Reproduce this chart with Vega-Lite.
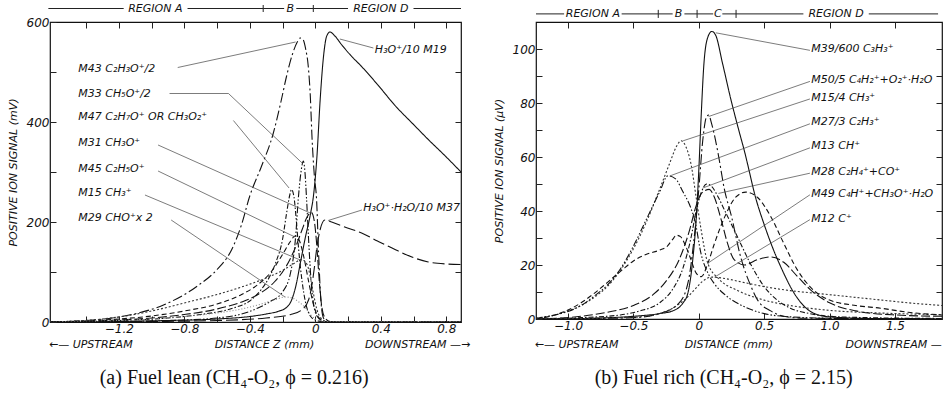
{
  "$schema": "https://vega.github.io/schema/vega-lite/v6.json",
  "background": "white",
  "padding": {"left": 6, "top": 1, "right": 0, "bottom": 0},
  "bounds": "flush",
  "spacing": 75,
  "config": {
    "view": {"stroke": "#111", "strokeWidth": 1.2},
    "axis": {"labelFont": "DejaVu Sans", "titleFont": "DejaVu Sans", "labelFontStyle": "italic", "titleFontStyle": "italic", "titleFontWeight": "normal", "labelColor": "#111", "titleColor": "#111", "tickColor": "#222", "grid": false, "domain": false, "labelOverlap": false, "labelFlush": false, "labelFontSize": 12, "titleFontSize": 11}
  },
  "datasets": {
    "left": [
      {"s":"M19","x":-1.62,"y":0},{"s":"M19","x":-1.2,"y":1},{"s":"M19","x":-0.9,"y":3},{"s":"M19","x":-0.6,"y":6},{"s":"M19","x":-0.4,"y":11},{"s":"M19","x":-0.3,"y":16},{"s":"M19","x":-0.22,"y":22},{"s":"M19","x":-0.18,"y":28},{"s":"M19","x":-0.15,"y":40},{"s":"M19","x":-0.12,"y":70},{"s":"M19","x":-0.09,"y":120},{"s":"M19","x":-0.06,"y":170},{"s":"M19","x":-0.03,"y":215},{"s":"M19","x":-0.01,"y":255},{"s":"M19","x":0.01,"y":330},{"s":"M19","x":0.03,"y":445},{"s":"M19","x":0.05,"y":530},{"s":"M19","x":0.07,"y":572},{"s":"M19","x":0.09,"y":580},{"s":"M19","x":0.12,"y":572},{"s":"M19","x":0.16,"y":555},{"s":"M19","x":0.22,"y":532},{"s":"M19","x":0.28,"y":512},{"s":"M19","x":0.38,"y":475},{"s":"M19","x":0.49,"y":432},{"s":"M19","x":0.6,"y":395},{"s":"M19","x":0.69,"y":365},{"s":"M19","x":0.8,"y":330},{"s":"M19","x":0.89,"y":300},
      {"s":"M43","x":-1.62,"y":0},{"s":"M43","x":-1.4,"y":3},{"s":"M43","x":-1.2,"y":10},{"s":"M43","x":-1.12,"y":15},{"s":"M43","x":-0.92,"y":35},{"s":"M43","x":-0.72,"y":72},{"s":"M43","x":-0.6,"y":105},{"s":"M43","x":-0.51,"y":145},{"s":"M43","x":-0.45,"y":195},{"s":"M43","x":-0.4,"y":252},{"s":"M43","x":-0.33,"y":310},{"s":"M43","x":-0.256,"y":378},{"s":"M43","x":-0.21,"y":440},{"s":"M43","x":-0.175,"y":492},{"s":"M43","x":-0.14,"y":535},{"s":"M43","x":-0.11,"y":560},{"s":"M43","x":-0.093,"y":568},{"s":"M43","x":-0.075,"y":565},{"s":"M43","x":-0.058,"y":545},{"s":"M43","x":-0.043,"y":512},{"s":"M43","x":-0.03,"y":450},{"s":"M43","x":-0.02,"y":370},{"s":"M43","x":-0.005,"y":290},{"s":"M43","x":0.008,"y":245},{"s":"M43","x":0.02,"y":140},{"s":"M43","x":0.035,"y":40},{"s":"M43","x":0.05,"y":8},{"s":"M43","x":0.07,"y":1},{"s":"M43","x":0.1,"y":0},{"s":"M43","x":0.89,"y":0},
      {"s":"M33","x":-1.62,"y":0},{"s":"M33","x":-1.2,"y":1},{"s":"M33","x":-0.8,"y":4},{"s":"M33","x":-0.6,"y":8},{"s":"M33","x":-0.45,"y":16},{"s":"M33","x":-0.35,"y":28},{"s":"M33","x":-0.28,"y":40},{"s":"M33","x":-0.2,"y":60},{"s":"M33","x":-0.15,"y":100},{"s":"M33","x":-0.12,"y":170},{"s":"M33","x":-0.104,"y":245},{"s":"M33","x":-0.085,"y":305},{"s":"M33","x":-0.073,"y":322},{"s":"M33","x":-0.063,"y":300},{"s":"M33","x":-0.053,"y":245},{"s":"M33","x":-0.04,"y":160},{"s":"M33","x":-0.025,"y":80},{"s":"M33","x":-0.01,"y":35},{"s":"M33","x":0.01,"y":12},{"s":"M33","x":0.04,"y":3},{"s":"M33","x":0.08,"y":0},{"s":"M33","x":0.89,"y":0},
      {"s":"M47","x":-1.62,"y":0},{"s":"M47","x":-1.2,"y":3},{"s":"M47","x":-0.9,"y":8},{"s":"M47","x":-0.7,"y":15},{"s":"M47","x":-0.5,"y":28},{"s":"M47","x":-0.4,"y":42},{"s":"M47","x":-0.33,"y":65},{"s":"M47","x":-0.28,"y":90},{"s":"M47","x":-0.24,"y":120},{"s":"M47","x":-0.2,"y":165},{"s":"M47","x":-0.175,"y":218},{"s":"M47","x":-0.155,"y":255},{"s":"M47","x":-0.145,"y":265},{"s":"M47","x":-0.13,"y":250},{"s":"M47","x":-0.115,"y":200},{"s":"M47","x":-0.1,"y":140},{"s":"M47","x":-0.08,"y":80},{"s":"M47","x":-0.06,"y":40},{"s":"M47","x":-0.03,"y":12},{"s":"M47","x":0,"y":4},{"s":"M47","x":0.04,"y":1},{"s":"M47","x":0.08,"y":0},{"s":"M47","x":0.89,"y":0},
      {"s":"M31","x":-1.62,"y":0},{"s":"M31","x":-1.2,"y":4},{"s":"M31","x":-1.0,"y":8},{"s":"M31","x":-0.8,"y":15},{"s":"M31","x":-0.6,"y":26},{"s":"M31","x":-0.45,"y":40},{"s":"M31","x":-0.35,"y":55},{"s":"M31","x":-0.25,"y":80},{"s":"M31","x":-0.18,"y":110},{"s":"M31","x":-0.12,"y":150},{"s":"M31","x":-0.08,"y":185},{"s":"M31","x":-0.05,"y":210},{"s":"M31","x":-0.024,"y":219},{"s":"M31","x":-0.005,"y":200},{"s":"M31","x":0.01,"y":150},{"s":"M31","x":0.025,"y":80},{"s":"M31","x":0.04,"y":30},{"s":"M31","x":0.06,"y":8},{"s":"M31","x":0.09,"y":1},{"s":"M31","x":0.12,"y":0},{"s":"M31","x":0.89,"y":0},
      {"s":"M45","x":-1.62,"y":0},{"s":"M45","x":-1.2,"y":6},{"s":"M45","x":-1.0,"y":12},{"s":"M45","x":-0.8,"y":22},{"s":"M45","x":-0.6,"y":36},{"s":"M45","x":-0.45,"y":55},{"s":"M45","x":-0.35,"y":75},{"s":"M45","x":-0.27,"y":100},{"s":"M45","x":-0.2,"y":135},{"s":"M45","x":-0.15,"y":162},{"s":"M45","x":-0.124,"y":172},{"s":"M45","x":-0.1,"y":165},{"s":"M45","x":-0.07,"y":130},{"s":"M45","x":-0.04,"y":80},{"s":"M45","x":-0.015,"y":40},{"s":"M45","x":0.01,"y":15},{"s":"M45","x":0.04,"y":4},{"s":"M45","x":0.08,"y":0},{"s":"M45","x":0.89,"y":0},
      {"s":"M15","x":-1.62,"y":0},{"s":"M15","x":-1.3,"y":6},{"s":"M15","x":-1.2,"y":10},{"s":"M15","x":-1.0,"y":22},{"s":"M15","x":-0.8,"y":38},{"s":"M15","x":-0.6,"y":55},{"s":"M15","x":-0.45,"y":70},{"s":"M15","x":-0.3,"y":88},{"s":"M15","x":-0.2,"y":103},{"s":"M15","x":-0.13,"y":117},{"s":"M15","x":-0.084,"y":125},{"s":"M15","x":-0.05,"y":115},{"s":"M15","x":-0.03,"y":90},{"s":"M15","x":-0.01,"y":55},{"s":"M15","x":0.01,"y":25},{"s":"M15","x":0.04,"y":6},{"s":"M15","x":0.08,"y":0},{"s":"M15","x":0.89,"y":0},
      {"s":"M29","x":-1.62,"y":0},{"s":"M29","x":-1.2,"y":3},{"s":"M29","x":-1.0,"y":6},{"s":"M29","x":-0.8,"y":11},{"s":"M29","x":-0.6,"y":18},{"s":"M29","x":-0.45,"y":26},{"s":"M29","x":-0.33,"y":36},{"s":"M29","x":-0.25,"y":44},{"s":"M29","x":-0.185,"y":50},{"s":"M29","x":-0.14,"y":48},{"s":"M29","x":-0.1,"y":40},{"s":"M29","x":-0.06,"y":28},{"s":"M29","x":-0.03,"y":15},{"s":"M29","x":0,"y":6},{"s":"M29","x":0.04,"y":2},{"s":"M29","x":0.1,"y":0.5},{"s":"M29","x":0.89,"y":0},
      {"s":"M37","x":-1.62,"y":0},{"s":"M37","x":-1.0,"y":1},{"s":"M37","x":-0.6,"y":3},{"s":"M37","x":-0.3,"y":8},{"s":"M37","x":-0.15,"y":15},{"s":"M37","x":-0.08,"y":25},{"s":"M37","x":-0.04,"y":45},{"s":"M37","x":-0.02,"y":75},{"s":"M37","x":-0.005,"y":110},{"s":"M37","x":0.01,"y":150},{"s":"M37","x":0.03,"y":185},{"s":"M37","x":0.059,"y":204},{"s":"M37","x":0.1,"y":200},{"s":"M37","x":0.18,"y":190},{"s":"M37","x":0.283,"y":178},{"s":"M37","x":0.38,"y":162},{"s":"M37","x":0.487,"y":145},{"s":"M37","x":0.59,"y":130},{"s":"M37","x":0.69,"y":120},{"s":"M37","x":0.8,"y":116},{"s":"M37","x":0.89,"y":115}
    ],
    "leftLabels": [
      {"x":-1.447,"y":507,"t":"M43  C₂H₃O⁺/2"},
      {"x":-1.447,"y":457,"t":"M33  CH₅O⁺/2"},
      {"x":-1.447,"y":411,"t":"M47  C₂H₇O⁺ OR CH₃O₂⁺"},
      {"x":-1.447,"y":359,"t":"M31  CH₃O⁺"},
      {"x":-1.447,"y":307,"t":"M45  C₂H₅O⁺"},
      {"x":-1.447,"y":259,"t":"M15  CH₃⁺"},
      {"x":-1.447,"y":209,"t":"M29  CHO⁺x 2"},
      {"x":0.364,"y":545,"t":"H₃O⁺/10  M19"},
      {"x":0.293,"y":229,"t":"H₃O⁺·H₂O/10  M37"}
    ],
    "leftLeaders": [
      {"x":-0.84,"y":509,"x2":-0.12,"y2":560},
      {"x":-0.89,"y":457,"x2":-0.53,"y2":457},
      {"x":-0.53,"y":457,"x2":-0.08,"y2":318},
      {"x":-0.5,"y":403,"x2":-0.16,"y2":268},
      {"x":-0.96,"y":354,"x2":-0.024,"y2":217},
      {"x":-0.96,"y":302,"x2":-0.124,"y2":170},
      {"x":-1.04,"y":254,"x2":-0.084,"y2":123},
      {"x":-0.88,"y":204,"x2":-0.185,"y2":50},
      {"x":0.355,"y":548,"x2":0.15,"y2":566},
      {"x":0.285,"y":224,"x2":0.079,"y2":203}
    ],
    "leftRegSeg": [
      {"x":-1.63,"x2":-1.17},{"x":-0.78,"x2":-0.318},{"x":-0.318,"x2":-0.19},{"x":-0.116,"x2":-0.012},{"x":-0.012,"x2":0.2},{"x":0.6,"x2":0.89}
    ],
    "leftRegTick": [{"x":-0.318},{"x":-0.012}],
    "leftRegText": [{"x":-0.977,"t":"REGION  A"},{"x":-0.153,"t":"B"},{"x":0.4,"t":"REGION  D"}],
    "leftBottom": [{"x":-1.371,"t":"←— UPSTREAM"},{"x":-0.31,"t":"DISTANCE  Z (mm)"},{"x":0.625,"t":"DOWNSTREAM —→"}],
    "leftCaption": [{"x":-0.495,"t":"(a) Fuel lean (CH₄-O₂, ϕ = 0.216)"}],
    "right": [
      {"s":"M39","x":-1.245,"y":0},{"s":"M39","x":-0.8,"y":0.3},{"s":"M39","x":-0.5,"y":1},{"s":"M39","x":-0.3,"y":2},{"s":"M39","x":-0.2,"y":3},{"s":"M39","x":-0.12,"y":6},{"s":"M39","x":-0.084,"y":9.5},{"s":"M39","x":-0.046,"y":22},{"s":"M39","x":-0.02,"y":37},{"s":"M39","x":0,"y":55},{"s":"M39","x":0.018,"y":75},{"s":"M39","x":0.04,"y":95},{"s":"M39","x":0.07,"y":104.5},{"s":"M39","x":0.1,"y":106.5},{"s":"M39","x":0.13,"y":105},{"s":"M39","x":0.18,"y":95},{"s":"M39","x":0.247,"y":81},{"s":"M39","x":0.3,"y":71},{"s":"M39","x":0.35,"y":62},{"s":"M39","x":0.44,"y":44},{"s":"M39","x":0.5,"y":35},{"s":"M39","x":0.56,"y":27},{"s":"M39","x":0.63,"y":19},{"s":"M39","x":0.73,"y":9.5},{"s":"M39","x":0.8,"y":5},{"s":"M39","x":0.88,"y":2.1},{"s":"M39","x":1.0,"y":0.8},{"s":"M39","x":1.3,"y":0.2},{"s":"M39","x":1.86,"y":0},
      {"s":"M50","x":-1.245,"y":0},{"s":"M50","x":-0.8,"y":0.2},{"s":"M50","x":-0.5,"y":0.5},{"s":"M50","x":-0.3,"y":2},{"s":"M50","x":-0.15,"y":6},{"s":"M50","x":-0.08,"y":14},{"s":"M50","x":-0.04,"y":28},{"s":"M50","x":0,"y":48},{"s":"M50","x":0.03,"y":66},{"s":"M50","x":0.06,"y":75},{"s":"M50","x":0.075,"y":75.5},{"s":"M50","x":0.1,"y":72},{"s":"M50","x":0.145,"y":62},{"s":"M50","x":0.196,"y":48},{"s":"M50","x":0.25,"y":38},{"s":"M50","x":0.32,"y":23},{"s":"M50","x":0.4,"y":12},{"s":"M50","x":0.45,"y":7},{"s":"M50","x":0.55,"y":3},{"s":"M50","x":0.65,"y":1},{"s":"M50","x":0.8,"y":0.3},{"s":"M50","x":1.86,"y":0},
      {"s":"M15","x":-1.245,"y":0.3},{"s":"M15","x":-1.1,"y":1.5},{"s":"M15","x":-1.0,"y":3},{"s":"M15","x":-0.9,"y":5},{"s":"M15","x":-0.8,"y":8},{"s":"M15","x":-0.7,"y":12},{"s":"M15","x":-0.6,"y":18},{"s":"M15","x":-0.5,"y":26},{"s":"M15","x":-0.4,"y":36},{"s":"M15","x":-0.3,"y":48},{"s":"M15","x":-0.22,"y":58},{"s":"M15","x":-0.17,"y":64},{"s":"M15","x":-0.135,"y":66},{"s":"M15","x":-0.1,"y":64},{"s":"M15","x":-0.06,"y":57.5},{"s":"M15","x":-0.02,"y":45},{"s":"M15","x":0.018,"y":33},{"s":"M15","x":0.07,"y":20.5},{"s":"M15","x":0.15,"y":15},{"s":"M15","x":0.3,"y":10.5},{"s":"M15","x":0.5,"y":7},{"s":"M15","x":0.7,"y":5},{"s":"M15","x":1.0,"y":3.2},{"s":"M15","x":1.4,"y":2.2},{"s":"M15","x":1.86,"y":1.6},
      {"s":"M27","x":-1.245,"y":0.3},{"s":"M27","x":-1.1,"y":1.5},{"s":"M27","x":-1.0,"y":2.8},{"s":"M27","x":-0.9,"y":5},{"s":"M27","x":-0.8,"y":8.5},{"s":"M27","x":-0.7,"y":12.5},{"s":"M27","x":-0.6,"y":18.5},{"s":"M27","x":-0.5,"y":27},{"s":"M27","x":-0.4,"y":37},{"s":"M27","x":-0.3,"y":47},{"s":"M27","x":-0.237,"y":53},{"s":"M27","x":-0.18,"y":52},{"s":"M27","x":-0.12,"y":47},{"s":"M27","x":-0.06,"y":41},{"s":"M27","x":-0.03,"y":36.5},{"s":"M27","x":0.018,"y":24},{"s":"M27","x":0.07,"y":17},{"s":"M27","x":0.12,"y":13},{"s":"M27","x":0.2,"y":9},{"s":"M27","x":0.35,"y":4.5},{"s":"M27","x":0.5,"y":2},{"s":"M27","x":0.7,"y":0.8},{"s":"M27","x":1.0,"y":0.3},{"s":"M27","x":1.86,"y":0},
      {"s":"M13","x":-1.245,"y":0},{"s":"M13","x":-0.9,"y":0.5},{"s":"M13","x":-0.6,"y":1.5},{"s":"M13","x":-0.45,"y":3},{"s":"M13","x":-0.3,"y":6},{"s":"M13","x":-0.2,"y":11},{"s":"M13","x":-0.12,"y":19},{"s":"M13","x":-0.06,"y":30},{"s":"M13","x":-0.02,"y":40},{"s":"M13","x":0.02,"y":47},{"s":"M13","x":0.06,"y":50},{"s":"M13","x":0.1,"y":49},{"s":"M13","x":0.15,"y":45},{"s":"M13","x":0.2,"y":40},{"s":"M13","x":0.3,"y":30},{"s":"M13","x":0.4,"y":20},{"s":"M13","x":0.5,"y":12},{"s":"M13","x":0.6,"y":7},{"s":"M13","x":0.7,"y":4},{"s":"M13","x":0.85,"y":2},{"s":"M13","x":1.0,"y":1},{"s":"M13","x":1.3,"y":0.5},{"s":"M13","x":1.86,"y":0.2},
      {"s":"M28","x":-1.245,"y":0},{"s":"M28","x":-0.9,"y":1},{"s":"M28","x":-0.7,"y":2.5},{"s":"M28","x":-0.5,"y":5},{"s":"M28","x":-0.35,"y":9},{"s":"M28","x":-0.25,"y":14},{"s":"M28","x":-0.15,"y":22},{"s":"M28","x":-0.07,"y":33},{"s":"M28","x":-0.02,"y":42},{"s":"M28","x":0.03,"y":47},{"s":"M28","x":0.08,"y":48},{"s":"M28","x":0.12,"y":45},{"s":"M28","x":0.17,"y":37},{"s":"M28","x":0.22,"y":28},{"s":"M28","x":0.27,"y":22},{"s":"M28","x":0.35,"y":20},{"s":"M28","x":0.45,"y":22},{"s":"M28","x":0.55,"y":23},{"s":"M28","x":0.65,"y":21},{"s":"M28","x":0.75,"y":16},{"s":"M28","x":0.85,"y":11},{"s":"M28","x":1.0,"y":6},{"s":"M28","x":1.2,"y":3},{"s":"M28","x":1.5,"y":1.5},{"s":"M28","x":1.86,"y":1},
      {"s":"M49","x":-1.245,"y":0},{"s":"M49","x":-1.1,"y":1.5},{"s":"M49","x":-1.0,"y":3.3},{"s":"M49","x":-0.9,"y":6},{"s":"M49","x":-0.8,"y":9.5},{"s":"M49","x":-0.7,"y":13.5},{"s":"M49","x":-0.59,"y":18},{"s":"M49","x":-0.5,"y":21.5},{"s":"M49","x":-0.4,"y":24},{"s":"M49","x":-0.3,"y":25.5},{"s":"M49","x":-0.24,"y":27},{"s":"M49","x":-0.2,"y":29.5},{"s":"M49","x":-0.17,"y":31},{"s":"M49","x":-0.14,"y":30.5},{"s":"M49","x":-0.1,"y":27},{"s":"M49","x":-0.06,"y":22},{"s":"M49","x":-0.02,"y":17},{"s":"M49","x":0.02,"y":15.7},{"s":"M49","x":0.07,"y":20.7},{"s":"M49","x":0.12,"y":28},{"s":"M49","x":0.2,"y":38},{"s":"M49","x":0.28,"y":45},{"s":"M49","x":0.36,"y":47},{"s":"M49","x":0.45,"y":45},{"s":"M49","x":0.55,"y":38},{"s":"M49","x":0.65,"y":28},{"s":"M49","x":0.756,"y":18},{"s":"M49","x":0.85,"y":12},{"s":"M49","x":1.0,"y":7},{"s":"M49","x":1.2,"y":5},{"s":"M49","x":1.39,"y":4},{"s":"M49","x":1.6,"y":2.5},{"s":"M49","x":1.86,"y":1.5},
      {"s":"M12","x":-1.245,"y":0},{"s":"M12","x":-0.6,"y":0.5},{"s":"M12","x":-0.4,"y":1},{"s":"M12","x":-0.3,"y":2},{"s":"M12","x":-0.2,"y":4},{"s":"M12","x":-0.1,"y":7.5},{"s":"M12","x":-0.03,"y":11},{"s":"M12","x":0.03,"y":14},{"s":"M12","x":0.1,"y":15.5},{"s":"M12","x":0.2,"y":15},{"s":"M12","x":0.3,"y":14},{"s":"M12","x":0.5,"y":12},{"s":"M12","x":0.7,"y":10.5},{"s":"M12","x":0.9,"y":9.5},{"s":"M12","x":1.1,"y":8.5},{"s":"M12","x":1.4,"y":7},{"s":"M12","x":1.6,"y":6},{"s":"M12","x":1.86,"y":5}
    ],
    "rightLabels": [
      {"x":0.86,"y":100,"t":"M39/600  C₃H₃⁺"},
      {"x":0.86,"y":88.6,"t":"M50/5  C₄H₂⁺+O₂⁺·H₂O"},
      {"x":0.86,"y":82,"t":"M15/4  CH₃⁺"},
      {"x":0.86,"y":72.8,"t":"M27/3  C₂H₃⁺"},
      {"x":0.86,"y":63.9,"t":"M13  CH⁺"},
      {"x":0.86,"y":54.4,"t":"M28  C₂H₄⁺+CO⁺"},
      {"x":0.86,"y":46.4,"t":"M49  C₄H⁺+CH₃O⁺·H₂O"},
      {"x":0.86,"y":37.2,"t":"M12  C⁺"}
    ],
    "rightLeaders": [
      {"x":0.85,"y":99.5,"x2":0.13,"y2":106},
      {"x":0.85,"y":88,"x2":0.075,"y2":75},
      {"x":0.85,"y":81.5,"x2":-0.12,"y2":66},
      {"x":0.85,"y":72.3,"x2":-0.22,"y2":53},
      {"x":0.85,"y":63.4,"x2":0.03,"y2":48.5},
      {"x":0.85,"y":54,"x2":0.15,"y2":46.5},
      {"x":0.85,"y":46,"x2":0.07,"y2":20.7},
      {"x":0.85,"y":36.8,"x2":0.12,"y2":15.5}
    ],
    "rightRegSeg": [
      {"x":-1.245,"x2":-1.03},{"x":-0.59,"x2":-0.31},{"x":-0.31,"x2":-0.2},{"x":-0.11,"x2":-0.013},{"x":-0.013,"x2":0.11},{"x":0.18,"x2":0.285},{"x":0.285,"x2":0.8},{"x":1.3,"x2":1.83}
    ],
    "rightRegTick": [{"x":-0.31},{"x":-0.013},{"x":0.285}],
    "rightRegText": [{"x":-0.81,"t":"REGION  A"},{"x":-0.155,"t":"B"},{"x":0.145,"t":"C"},{"x":1.05,"t":"REGION  D"}],
    "rightBottom": [{"x":-0.935,"t":"←— UPSTREAM"},{"x":0.23,"t":"DISTANCE  (mm)"},{"x":1.49,"t":"DOWNSTREAM —"}],
    "rightCaption": [{"x":0.19,"t":"(b) Fuel rich (CH₄-O₂, ϕ = 2.15)"}]
  },
  "hconcat": [
    {
      "width": 411,
      "height": 300,
      "resolve": {"axis": {"x": "independent", "y": "independent"}},
      "layer": [
        {
          "data": {"name": "left"},
          "mark": {"type": "line", "interpolate": "monotone", "strokeWidth": 1.1, "clip": true},
          "encoding": {
            "x": {"field": "x", "type": "quantitative", "scale": {"domain": [-1.62, 0.89], "nice": false, "zero": false},
              "axis": {"orient": "bottom", "title": null, "values": [-1.4,-1.2,-1.0,-0.8,-0.6,-0.4,-0.2,0,0.2,0.4,0.6,0.8], "labelExpr": "abs(round(datum.value*10)) % 4 == 0 ? (datum.value == 0 ? '0' : format(datum.value, '.1f')) : ''", "tickSize": -6, "labelPadding": 7}},
            "y": {"field": "y", "type": "quantitative", "scale": {"domain": [0, 600], "nice": false, "zero": false},
              "axis": {"orient": "left", "title": "POSITIVE  ION  SIGNAL  (mV)", "values": [0,100,200,300,400,500,600], "labelExpr": "datum.value % 200 == 0 ? datum.label : ''", "tickSize": -6, "labelPadding": 7, "titlePadding": 8}},
            "strokeDash": {"field": "s", "type": "nominal", "legend": null, "scale": {"domain": ["M19","M43","M33","M47","M31","M45","M15","M29","M37"], "range": [[1,0],[10,3,2,3],[7,2,1.5,2,1.5,2],[5,2,1.5,2],[9,3],[5,3],[2,2],[1,2],[12,4]]}},
            "color": {"field": "s", "type": "nominal", "legend": null, "scale": {"domain": ["M19","M43","M33","M47","M31","M45","M15","M29","M37"], "range": ["#111","#111","#111","#111","#111","#111","#333","#888","#111"]}}
          }
        },
        {
          "data": {"name": "leftLeaders"},
          "mark": {"type": "rule", "strokeWidth": 0.7, "color": "#444"},
          "encoding": {
            "x": {"field": "x", "type": "quantitative", "scale": {"domain": [-1.62, 0.89], "nice": false, "zero": false},
              "axis": {"orient": "top", "title": null, "labels": false, "values": [-1.4,-1.2,-1.0,-0.8,-0.6,-0.4,-0.2,0,0.2,0.4,0.6,0.8], "tickSize": -6}},
            "y": {"field": "y", "type": "quantitative", "scale": {"domain": [0, 600], "nice": false, "zero": false},
              "axis": {"orient": "right", "title": null, "labels": false, "values": [100,200,300,400,500], "tickSize": -6}},
            "x2": {"field": "x2"},
            "y2": {"field": "y2"}
          }
        },
        {
          "data": {"name": "leftLabels"},
          "mark": {"type": "text", "align": "left", "baseline": "middle", "font": "DejaVu Sans", "fontStyle": "italic", "fontSize": 11, "color": "#111"},
          "encoding": {
            "x": {"field": "x", "type": "quantitative", "scale": {"domain": [-1.62, 0.89], "nice": false, "zero": false}, "axis": null},
            "y": {"field": "y", "type": "quantitative", "scale": {"domain": [0, 600], "nice": false, "zero": false}, "axis": null},
            "text": {"field": "t"}
          }
        },
        {
          "data": {"name": "leftRegSeg"},
          "mark": {"type": "rule", "strokeWidth": 1, "color": "#222"},
          "encoding": {
            "x": {"field": "x", "type": "quantitative", "scale": {"domain": [-1.62, 0.89], "nice": false, "zero": false}, "axis": null},
            "x2": {"field": "x2"},
            "y": {"datum": 627, "type": "quantitative", "scale": {"domain": [0, 600], "nice": false, "zero": false}, "axis": null}
          }
        },
        {
          "data": {"name": "leftRegTick"},
          "mark": {"type": "rule", "strokeWidth": 1, "color": "#222"},
          "encoding": {
            "x": {"field": "x", "type": "quantitative", "scale": {"domain": [-1.62, 0.89], "nice": false, "zero": false}, "axis": null},
            "y": {"datum": 620, "type": "quantitative", "scale": {"domain": [0, 600], "nice": false, "zero": false}, "axis": null},
            "y2": {"datum": 634}
          }
        },
        {
          "data": {"name": "leftRegText"},
          "mark": {"type": "text", "align": "center", "baseline": "middle", "font": "DejaVu Sans", "fontStyle": "italic", "fontSize": 11, "color": "#111"},
          "encoding": {
            "x": {"field": "x", "type": "quantitative", "scale": {"domain": [-1.62, 0.89], "nice": false, "zero": false}, "axis": null},
            "y": {"datum": 627, "type": "quantitative", "scale": {"domain": [0, 600], "nice": false, "zero": false}, "axis": null},
            "text": {"field": "t"}
          }
        },
        {
          "data": {"name": "leftBottom"},
          "mark": {"type": "text", "align": "center", "baseline": "middle", "font": "DejaVu Sans", "fontStyle": "italic", "fontSize": 11, "color": "#111"},
          "encoding": {
            "x": {"field": "x", "type": "quantitative", "scale": {"domain": [-1.62, 0.89], "nice": false, "zero": false}, "axis": null},
            "y": {"datum": -46, "type": "quantitative", "scale": {"domain": [0, 600], "nice": false, "zero": false}, "axis": null},
            "text": {"field": "t"}
          }
        },
        {
          "data": {"name": "leftCaption"},
          "mark": {"type": "text", "align": "center", "baseline": "middle", "font": "Liberation Serif", "fontSize": 20, "color": "#111"},
          "encoding": {
            "x": {"field": "x", "type": "quantitative", "scale": {"domain": [-1.62, 0.89], "nice": false, "zero": false}, "axis": null},
            "y": {"datum": -111, "type": "quantitative", "scale": {"domain": [0, 600], "nice": false, "zero": false}, "axis": null},
            "text": {"field": "t"}
          }
        }
      ]
    },
    {
      "width": 406,
      "height": 297,
      "resolve": {"axis": {"x": "independent", "y": "independent"}},
      "layer": [
        {
          "data": {"name": "right"},
          "mark": {"type": "line", "interpolate": "monotone", "strokeWidth": 1.1, "clip": true},
          "encoding": {
            "x": {"field": "x", "type": "quantitative", "scale": {"domain": [-1.245, 1.86], "nice": false, "zero": false},
              "axis": {"orient": "bottom", "title": null, "values": [-1.0,-0.5,0,0.5,1.0,1.5], "labelExpr": "datum.value == 0 ? '0' : format(datum.value, '.1f')", "tickSize": -6, "labelPadding": 7}},
            "y": {"field": "y", "type": "quantitative", "scale": {"domain": [0, 110], "nice": false, "zero": false},
              "axis": {"orient": "left", "title": "POSITIVE  ION  SIGNAL  (μV)", "values": [0,10,20,30,40,50,60,70,80,90,100], "labelExpr": "datum.value % 20 == 0 ? datum.label : ''", "tickSize": -6, "labelPadding": 7, "titlePadding": 8}},
            "strokeDash": {"field": "s", "type": "nominal", "legend": null, "scale": {"domain": ["M39","M50","M15","M27","M13","M28","M49","M12"], "range": [[1,0],[12,4],[9,3],[10,3,2,3],[6,2,1.5,2,1.5,2],[4,2,1.5,2],[4,3],[1.5,2]]}},
            "color": {"field": "s", "type": "nominal", "legend": null, "scale": {"domain": ["M39","M50","M15","M27","M13","M28","M49","M12"], "range": ["#111","#111","#111","#111","#111","#111","#111","#888"]}}
          }
        },
        {
          "data": {"name": "rightLeaders"},
          "mark": {"type": "rule", "strokeWidth": 0.7, "color": "#444"},
          "encoding": {
            "x": {"field": "x", "type": "quantitative", "scale": {"domain": [-1.245, 1.86], "nice": false, "zero": false},
              "axis": {"orient": "top", "title": null, "labels": false, "values": [-1.0,-0.5,0,0.5,1.0,1.5], "tickSize": -6}},
            "y": {"field": "y", "type": "quantitative", "scale": {"domain": [0, 110], "nice": false, "zero": false},
              "axis": {"orient": "right", "title": null, "labels": false, "values": [10,20,30,40,50,60,70,80,90,100], "tickSize": -6}},
            "x2": {"field": "x2"},
            "y2": {"field": "y2"}
          }
        },
        {
          "data": {"name": "rightLabels"},
          "mark": {"type": "text", "align": "left", "baseline": "middle", "font": "DejaVu Sans", "fontStyle": "italic", "fontSize": 11, "color": "#111"},
          "encoding": {
            "x": {"field": "x", "type": "quantitative", "scale": {"domain": [-1.245, 1.86], "nice": false, "zero": false}, "axis": null},
            "y": {"field": "y", "type": "quantitative", "scale": {"domain": [0, 110], "nice": false, "zero": false}, "axis": null},
            "text": {"field": "t"}
          }
        },
        {
          "data": {"name": "rightRegSeg"},
          "mark": {"type": "rule", "strokeWidth": 1, "color": "#222"},
          "encoding": {
            "x": {"field": "x", "type": "quantitative", "scale": {"domain": [-1.245, 1.86], "nice": false, "zero": false}, "axis": null},
            "x2": {"field": "x2"},
            "y": {"datum": 113, "type": "quantitative", "scale": {"domain": [0, 110], "nice": false, "zero": false}, "axis": null}
          }
        },
        {
          "data": {"name": "rightRegTick"},
          "mark": {"type": "rule", "strokeWidth": 1, "color": "#222"},
          "encoding": {
            "x": {"field": "x", "type": "quantitative", "scale": {"domain": [-1.245, 1.86], "nice": false, "zero": false}, "axis": null},
            "y": {"datum": 111.5, "type": "quantitative", "scale": {"domain": [0, 110], "nice": false, "zero": false}, "axis": null},
            "y2": {"datum": 114.5}
          }
        },
        {
          "data": {"name": "rightRegText"},
          "mark": {"type": "text", "align": "center", "baseline": "middle", "font": "DejaVu Sans", "fontStyle": "italic", "fontSize": 11, "color": "#111"},
          "encoding": {
            "x": {"field": "x", "type": "quantitative", "scale": {"domain": [-1.245, 1.86], "nice": false, "zero": false}, "axis": null},
            "y": {"datum": 113, "type": "quantitative", "scale": {"domain": [0, 110], "nice": false, "zero": false}, "axis": null},
            "text": {"field": "t"}
          }
        },
        {
          "data": {"name": "rightBottom"},
          "mark": {"type": "text", "align": "center", "baseline": "middle", "font": "DejaVu Sans", "fontStyle": "italic", "fontSize": 11, "color": "#111"},
          "encoding": {
            "x": {"field": "x", "type": "quantitative", "scale": {"domain": [-1.245, 1.86], "nice": false, "zero": false}, "axis": null},
            "y": {"datum": -9.5, "type": "quantitative", "scale": {"domain": [0, 110], "nice": false, "zero": false}, "axis": null},
            "text": {"field": "t"}
          }
        },
        {
          "data": {"name": "rightCaption"},
          "mark": {"type": "text", "align": "center", "baseline": "middle", "font": "Liberation Serif", "fontSize": 20, "color": "#111"},
          "encoding": {
            "x": {"field": "x", "type": "quantitative", "scale": {"domain": [-1.245, 1.86], "nice": false, "zero": false}, "axis": null},
            "y": {"datum": -21.8, "type": "quantitative", "scale": {"domain": [0, 110], "nice": false, "zero": false}, "axis": null},
            "text": {"field": "t"}
          }
        }
      ]
    }
  ]
}
